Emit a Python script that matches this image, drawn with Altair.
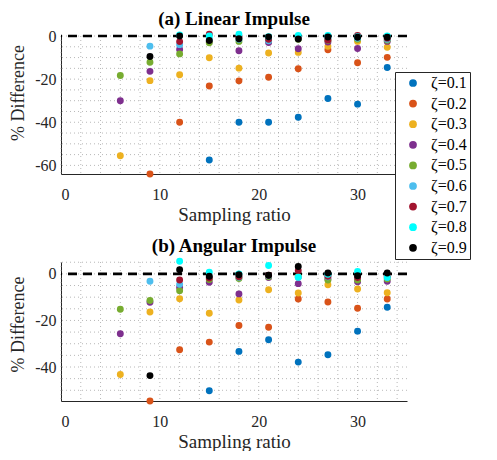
import altair as alt
import pandas as pd

ratios = [6, 9, 12, 15, 18, 21, 24, 27, 30, 33]
zeta_labels = ["ζ=0.1", "ζ=0.2", "ζ=0.3", "ζ=0.4", "ζ=0.5", "ζ=0.6", "ζ=0.7", "ζ=0.8", "ζ=0.9"]
colors = ["#0072BD", "#D95319", "#EDB120", "#7E2F8E", "#77AC30", "#4DBEEE", "#A2142F", "#00FFFF", "#000000"]

# tick labels and grid positions
x_ticks = [0, 10, 20, 30]
x_grid_vals = list(range(0, 35, 2))
lin_ticks = [-60, -40, -20, 0]
lin_grid_vals = list(range(-60, 1, 5))
ang_ticks = [-40, -20, 0]
ang_grid_vals = list(range(-50, 6, 5))

# (a) Linear impulse, % difference per zeta (None = not shown)
lin_01 = [None, None, None, -57.5, -40.0, -40.0, -37.7, -29.0, -31.6, -14.6]
lin_02 = [None, -64.0, -40.0, -23.2, -20.8, -19.1, -15.2, -6.4, -12.4, -9.9]
lin_03 = [-55.5, -20.7, -18.0, -10.1, -14.9, -7.9, -7.6, -4.8, -2.5, -5.2]
lin_04 = [-30.0, -16.4, -6.3, -2.5, -6.8, -3.0, -5.9, -2.8, -5.8, -2.5]
lin_05 = [-18.3, -12.2, -8.3, -3.1, -2.5, -2.0, -1.5, -2.0, -1.5, -2.0]
lin_06 = [None, -4.7, -4.0, -1.5, -1.5, -2.2, -1.0, -1.0, -1.0, -1.5]
lin_07 = [None, None, -2.6, 0.8, -0.5, -1.5, -0.8, -1.8, 0.3, -1.0]
lin_08 = [None, None, 0.5, 0.0, 0.8, -0.3, 0.2, 0.2, -0.3, 0.0]
lin_09 = [None, -9.5, 0.0, -2.1, -1.3, -0.4, -1.4, -0.5, -0.6, -0.6]

# (b) Angular impulse
ang_01 = [None, None, None, -50.2, -33.3, -28.3, -37.9, -34.7, -24.6, -14.3]
ang_02 = [None, -54.6, -32.6, -29.3, -22.2, -22.9, -10.8, -12.1, -14.8, -10.8]
ang_03 = [-43.2, -16.4, -10.7, -16.9, -11.2, -6.8, -8.2, -4.7, -6.5, -8.1]
ang_04 = [-25.7, -12.2, -5.8, -3.6, -8.6, -1.6, -4.2, -2.2, -3.4, -3.2]
ang_05 = [-15.2, -11.4, -7.2, -2.4, -2.0, -1.2, -1.2, -2.6, -2.6, -2.2]
ang_06 = [None, -3.2, -4.5, -1.5, -1.5, -0.8, -1.5, -1.2, -1.5, -1.6]
ang_07 = [None, None, -2.6, -1.8, -1.2, -0.6, 1.4, -1.0, -1.6, -0.9]
ang_08 = [None, None, 5.4, 0.7, 0.0, 3.6, -1.4, -0.2, 1.0, -1.4]
ang_09 = [None, -43.7, 1.8, -1.0, -0.4, -0.6, 3.2, 0.4, -0.8, 0.4]

lin_series = [lin_01, lin_02, lin_03, lin_04, lin_05, lin_06, lin_07, lin_08, lin_09]
ang_series = [ang_01, ang_02, ang_03, ang_04, ang_05, ang_06, ang_07, ang_08, ang_09]


def long_frame(series):
    rows = []
    for i, (lab, vals) in enumerate(zip(zeta_labels, series)):
        for r, v in zip(ratios, vals):
            if v is not None:
                rows.append({"ratio": r, "diff": v, "zeta": lab, "k": i})
    return pd.DataFrame(rows)


lin_df = long_frame(lin_series)
ang_df = long_frame(ang_series)

FONT = "Liberation Serif"
GRID = dict(color="#a0a0a0", strokeDash=[1, 3], strokeWidth=1, opacity=0.75)

color_enc = alt.Color(
    "zeta:N",
    title=None,
    scale=alt.Scale(domain=zeta_labels, range=colors),
    legend=alt.Legend(
        orient="none", legendX=334, legendY=36,
        fillColor="white", strokeColor="#262626", padding=3,
        symbolType="circle", symbolSize=60, symbolOffset=7,
        symbolStrokeWidth=0, labelFont=FONT, labelFontSize=16,
        labelColor="#000000", labelOffset=10, rowPadding=4.6,
    ),
)


def panel(df, title, ydomain, yticks, ygrid, height, title_y, title_offset):
    xs = alt.Scale(domain=[0, 35], nice=False, zero=False)
    ys = alt.Scale(domain=ydomain, nice=False, zero=False)
    x_enc = alt.X("ratio:Q", title="Sampling ratio", scale=xs,
                  axis=alt.Axis(values=x_ticks, grid=False))
    y_enc = alt.Y("diff:Q", title="% Difference", scale=ys,
                  axis=alt.Axis(values=yticks, grid=False, titleY=title_y, titleX=-43,
                                titleBaseline="middle", titleAlign="center"))
    vgrid = alt.Chart(pd.DataFrame({"gx": x_grid_vals})).mark_rule(**GRID).encode(
        x=alt.X("gx:Q", scale=xs))
    hgrid = alt.Chart(pd.DataFrame({"gy": ygrid})).mark_rule(**GRID).encode(
        y=alt.Y("gy:Q", scale=ys))
    rule = alt.Chart(pd.DataFrame({"zero": [0]})).mark_rule(
        color="black", strokeWidth=2.6, strokeDash=[9, 6]
    ).encode(y=alt.Y("zero:Q", scale=ys))
    pts = alt.Chart(df).mark_circle(size=48, opacity=1).encode(
        x=x_enc, y=y_enc, color=color_enc, order=alt.Order("k:Q")
    )
    return alt.layer(vgrid, hgrid, rule, pts).properties(
        width=346, height=height,
        title=alt.TitleParams(title, font=FONT, fontSize=19, fontWeight="bold",
                              anchor="middle", frame="group", offset=title_offset,
                              color="#000000"),
    )


pa = panel(lin_df, "(a) Linear Impulse", [-64, 0], lin_ticks, lin_grid_vals, 138, 56.5, -1)
pb = panel(ang_df, "(b) Angular Impulse", [-54.6, 5.1], ang_ticks, ang_grid_vals, 139, 62, 2)

chart = alt.vconcat(pa, pb, spacing=12).resolve_scale(
    y="independent", color="shared"
).properties(
    padding={"left": 0, "top": 2, "right": 0, "bottom": 0}
).configure(
    font=FONT,
    locale={"number": {"decimal": ".", "thousands": ",", "grouping": [3],
                       "currency": ["", ""], "minus": "-"}},
).configure_view(stroke=None).configure_axis(
    labelFont=FONT, titleFont=FONT, labelFontSize=16, titleFontSize=18,
    titleFontWeight="normal", labelColor="#262626", titleColor="#262626",
    domainColor="#262626", domainWidth=1, ticks=False, labelPadding=5,
    labelOverlap=False,
).configure_axisX(labelPadding=12, titlePadding=3, titleFontSize=19).configure_axisY(labelPadding=5)

chart.save("out.html", embed_options={"renderer": "svg", "actions": False})
